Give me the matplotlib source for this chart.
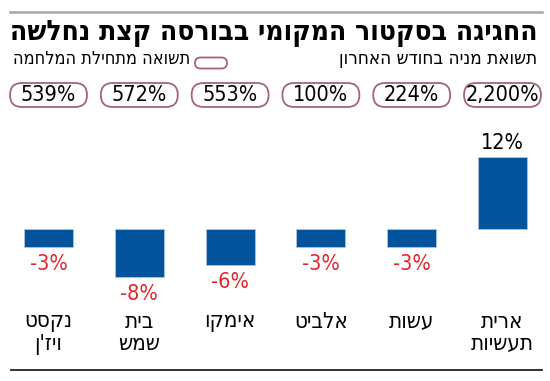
import matplotlib
matplotlib.use("Agg")
import matplotlib.pyplot as plt
from matplotlib.patches import FancyBboxPatch

# data, left to right as in the picture
categories = ["נקסט\nויז'ן", "בית\nשמש", "אימקו", "אלביט", "עשות", "ארית\nתעשיות"]
month_return = [-3, -8, -6, -3, -3, 12]          # % last month (bars)
war_return = ["539%", "572%", "553%", "100%", "224%", "2,200%"]  # % since the war began

title = "החגיגה בסקטור המקומי בבורסה קצת נחלשה"
sub_right = "תשואת מניה בחודש האחרון"
sub_left = "תשואה מתחילת המלחמה"

BLUE = "#03539c"
RED = "#e3262d"
PILL = "#a5627f"
plt.rcParams["font.family"] = ["DejaVu Sans"]
plt.rcParams["font.stretch"] = "condensed"


def rtl(s):
    # matplotlib has no bidi, so flip the hebrew by hand (line by line)
    return "\n".join(line[::-1] for line in s.split("\n"))


W, H = 550, 381
X0, DX = 48.5, 90.8      # pixel centre of first bar, spacing
BASE, PPU = 152, 6.0     # baseline (px from bottom), px per percent

fig = plt.figure(figsize=(W / 100, H / 100), dpi=100)
ax = fig.add_axes([(X0 - DX / 2) / W, 0, 6 * DX / W, 1])
ax.set_xlim(-0.5, 5.5)
ax.set_ylim(-BASE / PPU, (H - BASE) / PPU)
ax.axis("off")


def dy(py):
    # pixel-from-top to data y
    return (H - py - BASE) / PPU


x = list(range(len(categories)))
ax.bar(x, month_return, width=49 / DX, color=BLUE, edgecolor="#a9c4e4", linewidth=0.6)

for i, v in enumerate(month_return):
    if v > 0:
        ax.text(i, v + 14 / PPU, f"{v}%", ha="center", va="center", fontsize=15.5, color="black")
    else:
        ax.text(i, v - 17 / PPU, f"{v}%", ha="center", va="center", fontsize=15.5, color=RED)

# pills with the since-war return
asp = DX / PPU
pw, ph = 77 / DX, 24 / PPU
for i, s in enumerate(war_return):
    yc = dy(95)
    ax.add_patch(FancyBboxPatch((i - pw / 2, yc - ph / 2), pw, ph,
                                boxstyle=f"round,pad=0,rounding_size={12 / DX}",
                                mutation_aspect=asp, facecolor="white",
                                edgecolor=PILL, linewidth=1.3))
    ax.text(i, yc, s, ha="center", va="center", fontsize=15.5, color="black")

# category names
for i, c in enumerate(categories):
    ax.text(i, dy(312), rtl(c), ha="center", va="top", fontsize=16, linespacing=1.1)

# legend pill
lx = (211 - X0) / DX
lw_, lh = 32 / DX, 11 / PPU
ax.add_patch(FancyBboxPatch((lx - lw_ / 2, dy(63) - lh / 2), lw_, lh,
                            boxstyle=f"round,pad=0,rounding_size={5.5 / DX}",
                            mutation_aspect=asp, facecolor="white",
                            edgecolor=PILL, linewidth=1.3))

fig.text(537 / W, 1 - 33 / H, rtl(title), ha="right", va="center",
         fontsize=20.2, fontweight="heavy")
fig.text(537 / W, 1 - 59 / H, rtl(sub_right), ha="right", va="center", fontsize=13.5)
fig.text(190 / W, 1 - 59 / H, rtl(sub_left), ha="right", va="center", fontsize=13)

# rules top and bottom
fig.add_artist(plt.Line2D([10 / W, 542 / W], [1 - 12 / H, 1 - 12 / H], color="#a6a6a6", lw=1.8))
fig.add_artist(plt.Line2D([11 / W, 542 / W], [1 - 370 / H, 1 - 370 / H], color="#222222", lw=1.3))

fig.savefig("out.png", dpi=100)
